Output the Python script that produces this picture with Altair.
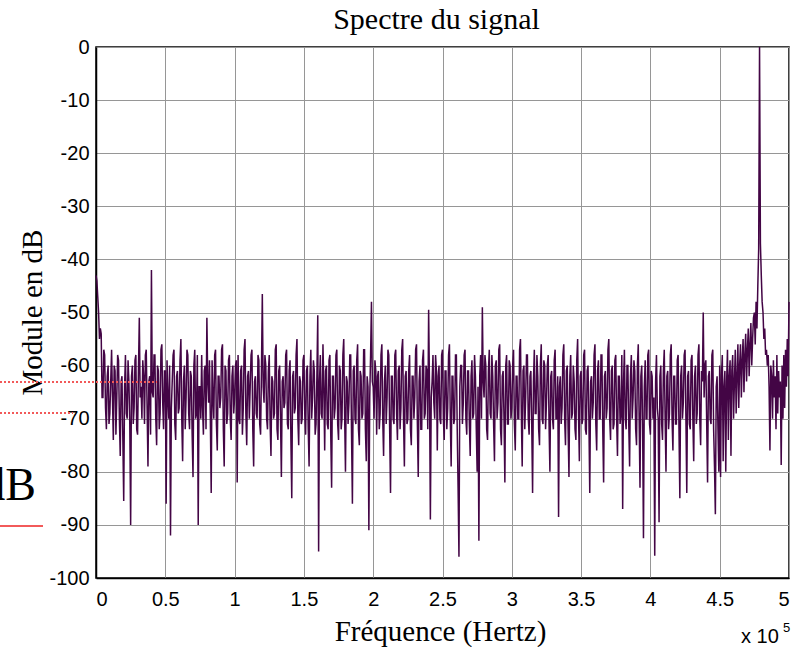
import altair as alt
import pandas as pd

# Spectrum magnitude (dB), one value per frequency bin.
BIN_HZ = 625
seg0 = [-43, -44, -47, -50, -55, -53, -54, -66, -66, -57, -58, -68, -72, -62, -60, -71, -69, -63, -57, -66,
        -74, -60, -61, -73, -66, -58, -59, -70, -77, -63, -62, -74, -85.5, -64, -58, -69, -70, -59, -63, -71]
seg1 = [-90, -62, -60, -71, -68, -59, -58, -72, -73, -61, -51, -66, -64, -70, -59, -62, -71, -58, -57, -68,
        -79, -63, -62, -73, -42, -65, -66, -58, -58, -70, -75, -60, -61, -72, -69, -57, -56, -67, -72, -61]
seg2 = [-61, -86, -59, -66, -70, -60, -92, -68, -63, -58, -57, -71, -74, -62, -61, -69, -68, -59, -55, -70,
        -78, -63, -60, -72, -66, -57, -58, -69, -72, -61, -62, -73, -81, -60, -57, -70, -69, -58, -90, -64]
seg3 = [-64, -70, -58, -68, -73, -61, -60, -72, -51, -63, -67, -59, -70, -84, -59, -66, -70, -58, -57, -71,
        -76, -62, -62, -68, -66, -57, -56, -72, -79, -60, -61, -71, -69, -59, -58, -70, -74, -62, -60, -69]
seg4 = [-66, -60, -59, -82, -58, -70, -71, -61, -60, -73, -68, -57, -55, -69, -75, -62, -61, -70, -64, -58,
        -57, -72, -79, -63, -62, -69, -70, -58, -59, -71, -73, -61, -46.5, -64, -67, -58, -60, -70, -72, -61]
seg5 = [-58, -71, -77, -62, -63, -70, -69, -57, -56, -72, -74, -61, -60, -70, -81, -63, -62, -68, -67, -58,
        -57, -71, -72, -61, -59, -74, -85, -62, -61, -69, -68, -58, -55, -70, -75, -62, -63, -71, -70, -59]
seg6 = [-58, -69, -73, -61, -60, -72, -79, -62, -57, -70, -66, -59, -61, -73, -71, -62, -50.5, -95, -63, -58,
        -69, -70, -56, -64, -76, -61, -60, -71, -72, -59, -58, -73, -83, -62, -62, -70, -68, -58, -57, -71]
seg7 = [-74, -60, -61, -72, -70, -58, -55, -69, -80, -62, -63, -71, -67, -58, -58, -73, -86, -61, -60, -70,
        -71, -59, -56, -72, -75, -61, -62, -70, -69, -57, -57, -72, -78, -62, -64, -91, -66, -58, -48, -63]
seg8 = [-64, -70, -59, -61, -73, -62, -61, -72, -69, -58, -56, -70, -77, -63, -60, -71, -66, -57, -58, -72,
        -84, -62, -62, -70, -71, -58, -57, -69, -74, -61, -60, -72, -68, -57, -55, -70, -79, -62, -61, -71]
seg9 = [-70, -61, -58, -72, -75, -62, -62, -70, -66, -57, -56, -71, -81, -63, -60, -72, -72, -59, -57, -70,
        -69, -60, -61, -72, -49.5, -64, -89, -66, -63, -58, -67, -70, -58, -61, -76, -62, -60, -70, -71, -58]
seg10 = [-57, -70, -74, -61, -61, -72, -68, -58, -56, -70, -79, -62, -62, -71, -70, -58, -58, -72, -83, -96,
         -64, -60, -60, -71, -67, -58, -57, -70, -73, -61, -61, -71, -77, -62, -59, -70, -69, -58, -62, -72]
seg11 = [-80, -64, -93, -62, -58, -70, -49, -63, -66, -58, -60, -72, -74, -61, -57, -69, -70, -58, -62, -71,
         -78, -60, -59, -70, -67, -57, -56, -72, -75, -62, -61, -70, -82, -60, -58, -71, -71, -59, -60, -70]
seg12 = [-68, -60, -57, -71, -76, -62, -62, -70, -70, -57, -55, -69, -79, -61, -60, -72, -66, -58, -58, -70,
         -73, -62, -61, -71, -84, -63, -57, -69, -69, -58, -62, -72, -75, -60, -56, -70, -71, -59, -60, -72]
seg13 = [-67, -60, -58, -71, -80, -62, -61, -70, -72, -59, -57, -70, -70, -62, -88.5, -64, -62, -71, -68, -58,
         -56, -70, -75, -61, -60, -72, -81, -62, -58, -70, -69, -60, -63, -72, -74, -59, -55, -69, -78, -62]
seg14 = [-61, -71, -70, -58, -57, -72, -73, -61, -60, -70, -84, -63, -62, -70, -67, -58, -56, -71, -76, -61,
         -59, -70, -70, -58, -58, -72, -82, -62, -61, -70, -68, -57, -55, -70, -74, -61, -60, -72, -71, -59]
seg15 = [-58, -70, -77, -62, -62, -71, -69, -58, -87, -63, -57, -70, -72, -60, -60, -71, -79, -62, -58, -70,
         -66, -59, -61, -72, -75, -60, -56, -70, -83, -62, -60, -71, -92.5, -64, -59, -70, -70, -58, -57, -71]
seg16 = [-73, -61, -62, -70, -66, -95.8, -63, -58, -68, -70, -89.5, -62, -60, -71, -74, -61, -57, -70, -80, -62,
         -61, -72, -69, -58, -56, -70, -76, -62, -62, -71, -71, -59, -58, -72, -85, -62, -60, -70, -67, -58]
seg17 = [-57, -70, -84, -62, -61, -71, -72, -59, -58, -70, -78, -62, -60, -71, -69, -58, -56, -70, -75, -61,
         -63, -50, -66, -60, -59, -71, -82, -62, -61, -70, -71, -58, -57, -72, -79, -88, -64, -62, -72, -80]
seg18 = [-60, -81, -62, -58, -78, -64, -61, -80, -63, -57, -74, -62, -59, -77, -61, -58, -70, -63, -57, -69,
         -62, -56, -68, -60, -56, -66, -59, -55, -65, -58, -54, -63, -57, -53, -62, -56, -52, -60, -55, -51]
seg19 = [-50, -56, -48, -53, -45, -38, 0, -37, -43, -48, -50, -55, -53, -58, -57, -60, -58, -64, -76, -60,
         -62, -70, -59, -66, -62, -72, -58, -69, -61, -66, -63, -78.7, -60, -70, -58, -68, -57, -64, -55, -62]
last = [-48]

y_ticks = [-100, -90, -80, -70, -60, -50, -40, -30, -20, -10, 0]
x_ticks = [0, 50000, 100000, 150000, 200000, 250000, 300000, 350000, 400000, 450000, 500000]

values = (seg0 + seg1 + seg2 + seg3 + seg4 + seg5 + seg6 + seg7 + seg8 + seg9 + seg10
          + seg11 + seg12 + seg13 + seg14 + seg15 + seg16 + seg17 + seg18 + seg19 + last)
df = pd.DataFrame({"f": [i * BIN_HZ for i in range(len(values))], "db": values})

PURPLE = "#430545"
GRID = "#969696"
RED = "#f25a5a"

x_scale = alt.Scale(domain=[0, 500000], nice=False, zero=False)
y_scale = alt.Scale(domain=[-100, 0], nice=False, zero=False)

line = alt.Chart(df).mark_line(color=PURPLE, strokeWidth=1.5, clip=False).encode(
    x=alt.X("f:Q", scale=x_scale,
            axis=alt.Axis(values=x_ticks, labelExpr="datum.value / 100000 + ''",
                          title="Fréquence (Hertz)", titleX=344, titleY=62,
                          titleBaseline="alphabetic", titleAnchor="middle")),
    y=alt.Y("db:Q", scale=y_scale,
            axis=alt.Axis(values=y_ticks, labelExpr="datum.value + ''",
                          title="Module en dB", titleX=-55, titleY=265,
                          titleAngle=270, titleBaseline="alphabetic", titleAnchor="middle")),
)

# overlay remnants visible at the left edge of the reference
dot1 = alt.Chart(df).mark_rule(color=RED, strokeWidth=1.5, strokeDash=[2, 2]).encode(
    x=alt.value(-96), x2=alt.value(61), y=alt.value(335))
dot2 = alt.Chart(df).mark_rule(color=RED, strokeWidth=1.5, strokeDash=[2, 2]).encode(
    x=alt.value(-96), x2=alt.value(-23), y=alt.value(366))
solid = alt.Chart(df).mark_rule(color=RED, strokeWidth=2).encode(
    x=alt.value(-96), x2=alt.value(-53), y=alt.value(479))
db_txt = alt.Chart(pd.DataFrame({"t": ["dB"]})).mark_text(
    font="Liberation Serif", fontSize=46, align="right", baseline="alphabetic", color="black"
).encode(text="t:N", x=alt.value(-60), y=alt.value(453))

x10 = alt.Chart(pd.DataFrame({"t": ["x 10"]})).mark_text(
    font="Liberation Sans", fontSize=20, align="left", baseline="alphabetic", color="black"
).encode(text="t:N", x=alt.value(645), y=alt.value(596))
exp5 = alt.Chart(pd.DataFrame({"t": ["5"]})).mark_text(
    font="Liberation Sans", fontSize=13, align="left", baseline="alphabetic", color="black"
).encode(text="t:N", x=alt.value(687), y=alt.value(585))

chart = alt.layer(line, dot1, dot2, solid, db_txt, x10, exp5).properties(
    width=693, height=531,
    title=alt.TitleParams("Spectre du signal", font="Liberation Serif", fontSize=30,
                          fontWeight="normal", color="black", anchor="middle", offset=2, dx=-6),
    autosize=alt.AutoSizeParams(type="none"),
    padding={"left": 96, "top": 47, "right": 19, "bottom": 69},
).configure_view(stroke="black", strokeWidth=1.5).configure_axis(
    grid=True, gridColor=GRID, gridWidth=1, gridOpacity=1,
    domainColor="black", domainWidth=1.5, tickSize=0,
    labelFont="Liberation Sans", labelFontSize=20, labelColor="black",
    titleFont="Liberation Serif", titleFontSize=29, titleFontWeight="normal", titleColor="black",
).configure_axisX(labelPadding=11).configure_axisY(labelPadding=7)

chart.save("out.html", embed_options={"renderer": "svg", "actions": False})
